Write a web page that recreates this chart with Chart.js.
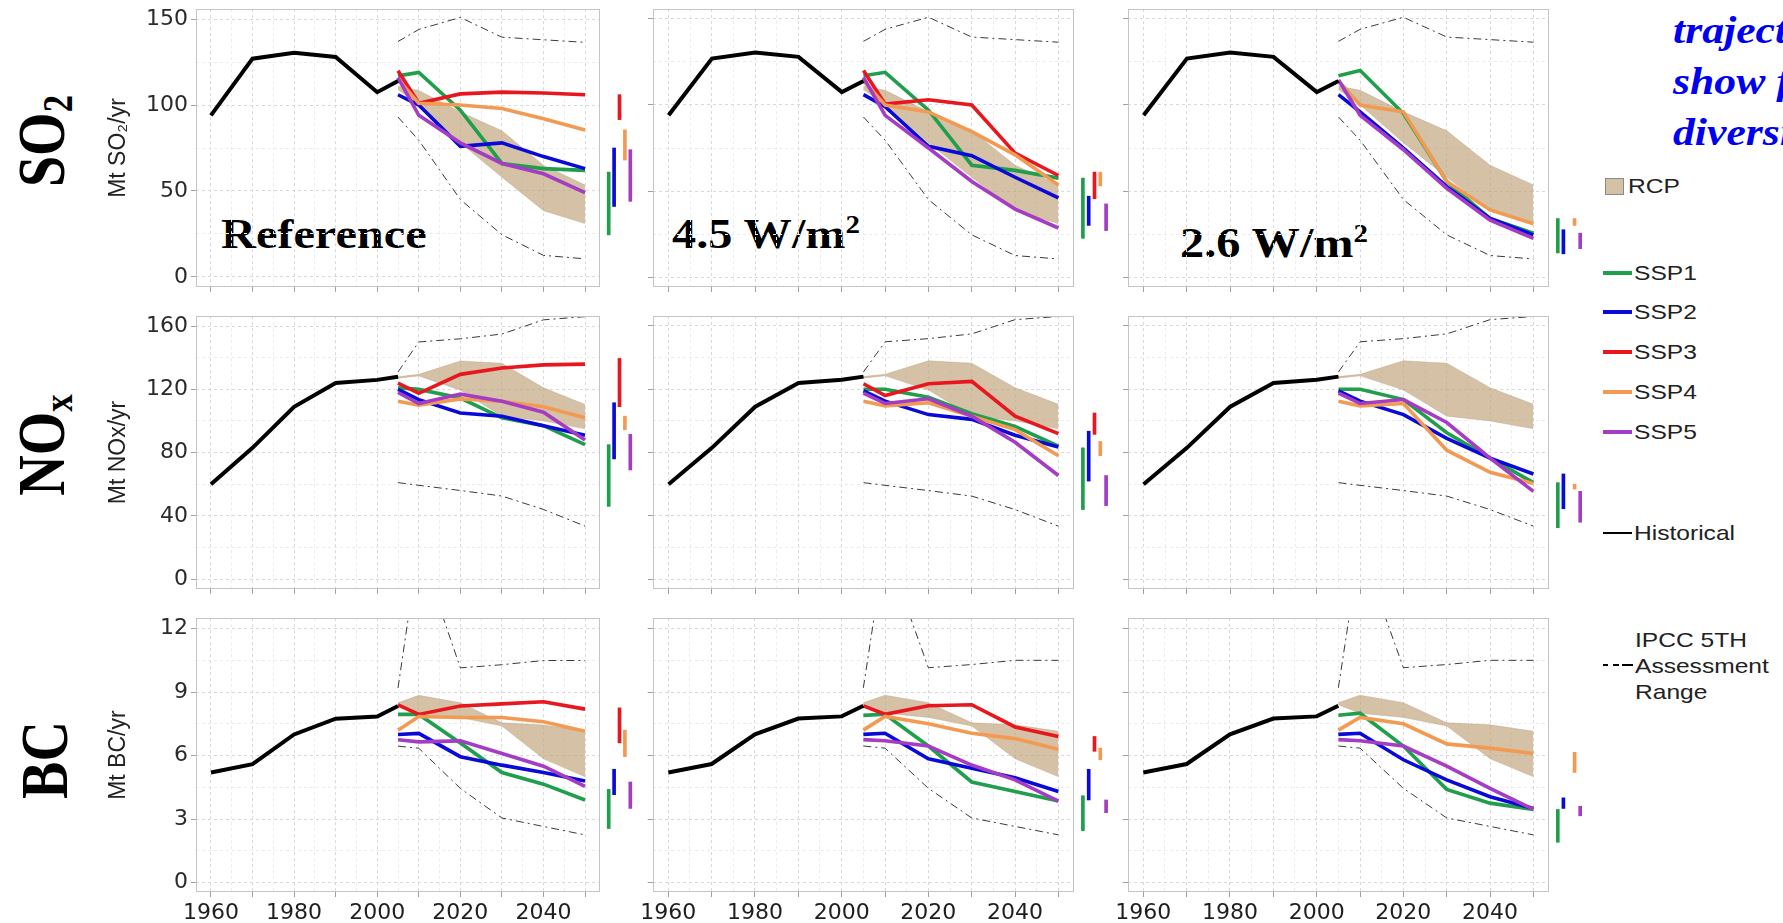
<!DOCTYPE html>
<html>
<head>
<meta charset="utf-8">
<title>Emission trajectories</title>
<script src="https://cdn.jsdelivr.net/npm/chart.js@4.4.0/dist/chart.umd.min.js"></script>
<style>
  body { margin: 0; width: 1783px; height: 923px; overflow: hidden; background: #fff; position: relative;
         font-family: "Liberation Sans", Arial, sans-serif; }
  .box { position: absolute; }
  .rowlab { position: absolute; font: bold 56px "Liberation Serif", serif; line-height: 1; white-space: nowrap;
            transform: translate(-50%, -50%) rotate(-90deg) scale(1, 1.2); color: #000; }
  .rowlab sub { font-size: 0.62em; vertical-align: -0.18em; }
  .case { position: absolute; font: bold 42px "Liberation Serif", serif; line-height: 1; white-space: nowrap;
          transform: scaleX(1.15); transform-origin: left top; color: #000; }
  .case sup { font-size: 0.6em; vertical-align: 0.6em; line-height: 0; }
  .note { position: absolute; font: italic bold 38px "Liberation Serif", serif; color: #0000f0; line-height: 51px;
          white-space: nowrap; transform: scaleX(1.15); transform-origin: left top; }
  .lt { position: absolute; font-size: 21px; line-height: 24px; color: #222; white-space: nowrap;
        transform: scaleX(1.17); transform-origin: left top; }
  .sw { position: absolute; }
</style>
</head>
<body>

<div class="rowlab" style="left:44px;top:141px">SO<sub>2</sub></div>
<div class="rowlab" style="left:44px;top:445px">NO<sub>x</sub></div>
<div class="rowlab" style="left:44px;top:760px">BC</div>

<div class="case" style="left:221px;top:213px">Reference</div>
<div class="case" style="left:672px;top:213px">4.5 W/m<sup>2</sup></div>
<div class="case" style="left:1180px;top:222px">2.6 W/m<sup>2</sup></div>

<div class="note" style="left:1673px;top:5px">traject<br>show f<br>diversi</div>

<!-- legend -->
<div class="sw" style="left:1605px;top:178px;width:17px;height:15px;background:rgb(213,193,166);border:1px solid #8a8a8a"></div>
<div class="lt" style="left:1628px;top:174px">RCP</div>
<div id="sspLegend"></div>
<div class="sw" style="left:1603px;top:532px;width:29px;height:2px;background:#000"></div>
<div class="lt" style="left:1634px;top:521px">Historical</div>
<div class="sw" style="left:1603px;top:664px;width:5px;height:2px;background:#000"></div>
<div class="sw" style="left:1613px;top:664px;width:6px;height:2px;background:#000"></div>
<div class="sw" style="left:1622px;top:664px;width:11px;height:2px;background:#000"></div>
<div class="lt" style="left:1635px;top:627px;line-height:26px">IPCC 5TH<br>Assessment<br>Range</div>

<script>
// ---------------- data ----------------
const histYears = [1960, 1970, 1980, 1990, 2000, 2005];
const projYears = [2005, 2010, 2020, 2030, 2040, 2050];
const sspNames = ['SSP1', 'SSP2', 'SSP3', 'SSP4', 'SSP5'];
const sspColors = ['#1f9e4c', '#0a0ad8', '#e8161e', '#f39a52', '#a43cc4'];

const yearTicks = [1960, 1980, 2000, 2020, 2040];
const so2Ticks = [0, 50, 100, 150];
const noxTicks = [0, 40, 80, 120, 160];
const bcTicks = [0, 3, 6, 9, 12];

// SO2 (Mt SO2/yr)
const so2Hist = [94, 127, 130.5, 128, 107.5, 114];
const so2RcpHi = [111, 108.5, 96, 85, 65, 53.5];
const so2RcpLo = [109, 100, 78, 58, 38.5, 31];
const so2IpccHi = [137, 144, 151, 139.5, 138, 136.5];
const so2IpccLo = [93, 79.5, 45, 24.5, 12.5, 10.5];
const so2Ref = [
  [117, 119, 97, 66, 63, 62],
  [106, 100, 76, 78, 70, 63],
  [120, 101, 106.5, 107.5, 107, 106],
  [115, 101, 100, 98, 92, 85.5],
  [116, 94, 78, 66, 60, 49]
];
const so2Rf45 = [
  [117, 119, 97, 65, 62, 57.5],
  [106, 99, 76, 70.5, 58, 46],
  [120, 100.5, 103, 100, 72, 59],
  [114, 100, 96, 84.5, 71, 53.5],
  [116, 94, 75, 55.5, 39.5, 28.5]
];
const so2Rf26 = [
  [117, 120, 95, 55.5, 34, 25.5],
  [106, 96, 75, 52.5, 34, 24.5],
  null,
  [114, 100, 96, 55.5, 39, 31],
  [114.5, 94, 74, 51.5, 33, 22.5]
];
const so2RefRange = [[24.5, 61], [41, 75], [91.5, 106], [68, 85.5], [44, 74]];
const so2Rf45Range = [[22.5, 57.5], [30, 47], [45.5, 61], [53, 61], [27, 42.5]];
const so2Rf26Range = [[14, 34], [13.5, 27.5], null, [30, 34], [16.5, 25.5]];

// NOx (Mt NOx/yr)
const noxHist = [60, 83, 109, 124, 126, 128];
const noxRcpHi = [128, 129.5, 138, 136.5, 121, 110.5];
const noxRcpLo = [127, 128.5, 119.5, 103, 100, 95];
const noxIpccHi = [131, 150, 152, 155, 164, 166];
const noxIpccLo = [61, 59.3, 56, 52.5, 44, 33.5];
const noxRef = [
  [121, 120, 114.5, 102, 97, 85],
  [120, 113.5, 105, 103, 97, 91],
  [124, 117.5, 129.5, 133.5, 135.5, 136],
  [112.5, 110, 114, 112.5, 109, 102],
  [118, 111, 117, 112.5, 105.5, 88]
];
const noxRf45 = [
  [120, 120, 115, 104.5, 96.5, 84],
  [119, 112.5, 104, 101, 91, 83.5],
  [123.5, 116, 123.5, 125, 103, 92],
  [112.5, 109.5, 111.5, 103, 94.5, 78],
  [117.5, 111, 114, 103, 86.5, 65.5]
];
const noxRf26 = [
  [120, 120, 113.5, 92.5, 76.5, 61],
  [119, 112.5, 104, 89, 76.5, 66.5],
  null,
  [112.5, 109.5, 111, 81.5, 67.5, 60.5],
  [117.5, 111, 113.5, 99, 76.5, 55.5]
];
const noxRefRange = [[46, 85], [76, 111.5], [109, 139.5], [94.5, 103], [69, 91.5]];
const noxRf45Range = [[44, 83], [62, 93.5], [91.5, 105], [78, 87], [46.5, 65.5]];
const noxRf26Range = [[32.5, 61], [44.5, 66.5], null, [57, 60], [36, 55.5]];

// BC (Mt BC/yr)
const bcHist = [5.2, 5.6, 7.0, 7.75, 7.85, 8.35];
const bcRcpHi = [8.5, 8.85, 8.5, 7.55, 7.45, 7.15];
const bcRcpLo = [8.4, 8.0, 7.8, 7.4, 5.85, 5.0];
const bcIpccHi = [9.2, 15.9, 10.15, 10.3, 10.5, 10.5];
const bcIpccLo = [6.45, 6.35, 4.45, 3.05, 2.65, 2.25];
const bcRef = [
  [7.95, 7.95, 6.6, 5.2, 4.65, 3.9],
  [7.0, 7.05, 5.95, 5.55, 5.2, 4.8],
  [8.4, 7.95, 8.35, 8.45, 8.55, 8.2],
  [7.2, 7.85, 7.8, 7.8, 7.6, 7.15],
  [6.75, 6.65, 6.7, 6.1, 5.5, 4.55]
];
const bcRf45 = [
  [7.9, 7.95, 6.45, 4.75, 4.3, 3.85],
  [7.0, 7.05, 5.85, 5.4, 4.95, 4.3],
  [8.35, 7.95, 8.35, 8.4, 7.35, 6.9],
  [7.2, 7.85, 7.5, 7.05, 6.8, 6.3],
  [6.75, 6.7, 6.45, 5.55, 4.85, 3.85]
];
const bcRf26 = [
  [7.9, 8.0, 6.45, 4.4, 3.75, 3.45],
  [7.0, 7.05, 5.8, 4.85, 4.05, 3.5],
  null,
  [7.2, 7.8, 7.5, 6.55, 6.35, 6.1],
  [6.75, 6.7, 6.45, 5.5, 4.45, 3.45]
];
const bcRefRange = [[2.55, 4.4], [4.15, 5.35], [6.6, 8.25], [5.95, 7.2], [3.5, 4.75]];
const bcRf45Range = [[2.45, 4.1], [3.9, 5.35], [6.2, 6.9], [5.8, 6.35], [3.3, 3.9]];
const bcRf26Range = [[1.9, 3.45], [3.5, 4.0], null, [5.2, 6.15], [3.15, 3.6]];

// ---------------- layout ----------------
const rows = [
  { title: 'Mt SO₂/yr', ticks: so2Ticks, min: -5.8, max: 155.8, top: 9, height: 278,
    hist: so2Hist, rcpHi: so2RcpHi, rcpLo: so2RcpLo, ipccHi: so2IpccHi, ipccLo: so2IpccLo,
    cases: [so2Ref, so2Rf45, so2Rf26], ranges: [so2RefRange, so2Rf45Range, so2Rf26Range] },
  { title: 'Mt NOx/yr', ticks: noxTicks, min: -6.2, max: 166.3, top: 316, height: 273,
    hist: noxHist, rcpHi: noxRcpHi, rcpLo: noxRcpLo, ipccHi: noxIpccHi, ipccLo: noxIpccLo,
    cases: [noxRef, noxRf45, noxRf26], ranges: [noxRefRange, noxRf45Range, noxRf26Range] },
  { title: 'Mt BC/yr', ticks: bcTicks, min: -0.45, max: 12.5, top: 618, height: 274,
    hist: bcHist, rcpHi: bcRcpHi, rcpLo: bcRcpLo, ipccHi: bcIpccHi, ipccLo: bcIpccLo,
    cases: [bcRef, bcRf45, bcRf26], ranges: [bcRefRange, bcRf45Range, bcRf26Range] }
];
const cols = [
  { left: 196, width: 404, barLeft: 606, barWidth: 27 },
  { left: 653, width: 421, barLeft: 1080, barWidth: 29 },
  { left: 1128, width: 421, barLeft: 1555, barWidth: 28 }
];

const xGrid = [];
for (let yr = 1960; yr <= 2050; yr += 5) xGrid.push(yr);

Chart.defaults.font.family = '"DejaVu Sans", sans-serif';
Chart.defaults.animation = false;

// ggplot-like border round the plot area
const panelBorder = {
  id: 'panelBorder',
  afterDraw(chart) {
    const a = chart.chartArea, ctx = chart.ctx;
    ctx.save();
    ctx.strokeStyle = '#c4c4c4';
    ctx.lineWidth = 1;
    ctx.strokeRect(Math.round(a.left) + 0.5, Math.round(a.top) + 0.5,
                   Math.round(a.right - a.left) - 1, Math.round(a.bottom - a.top) - 1);
    ctx.restore();
  }
};

function pts(xs, ys) {
  return xs.map((x, i) => ({ x: x, y: ys[i] }));
}

function withMinors(t) {
  const out = [];
  for (let i = 0; i < t.length; i++) {
    out.push(t[i]);
    if (i < t.length - 1) out.push((t[i] + t[i + 1]) / 2);
  }
  return out;
}

// move / resize the canvas so that its chart area lands on the target box
function place(chart, wrap, box) {
  for (let k = 0; k < 2; k++) {
    const a = chart.chartArea;
    const insL = a.left, insT = a.top;
    const insR = chart.width - a.right, insB = chart.height - a.bottom;
    wrap.style.left = (box.left - insL) + 'px';
    wrap.style.top = (box.top - insT) + 'px';
    chart.resize(Math.round(box.width + insL + insR), Math.round(box.height + insT + insB));
  }
}

function makePanel(r, c) {
  const row = rows[r], col = cols[c];
  const firstCol = c === 0, lastRow = r === 2;
  const yGrid = withMinors(row.ticks);

  const wrap = document.createElement('div');
  wrap.className = 'box';
  const cv = document.createElement('canvas');
  cv.width = col.width + 120;
  cv.height = row.height + 60;
  wrap.appendChild(cv);
  document.body.appendChild(wrap);

  const datasets = [
    { data: pts(projYears, row.rcpHi), fill: '+1', backgroundColor: 'rgba(190,160,118,0.65)',
      borderColor: 'rgba(160,130,95,0.35)', borderWidth: 0.8, pointRadius: 0, order: 20 },
    { data: pts(projYears, row.rcpLo), fill: false, backgroundColor: 'rgba(0,0,0,0)',
      borderColor: 'rgba(160,130,95,0.35)', borderWidth: 0.8, pointRadius: 0, order: 21 },
    { data: pts(projYears, row.ipccHi), borderColor: '#3a3a3a', borderWidth: 1,
      borderDash: [8, 4, 2, 4], pointRadius: 0, fill: false, order: 15 },
    { data: pts(projYears, row.ipccLo), borderColor: '#3a3a3a', borderWidth: 1,
      borderDash: [8, 4, 2, 4], pointRadius: 0, fill: false, order: 15 },
    { data: pts(histYears, row.hist), borderColor: '#000', borderWidth: 4,
      pointRadius: 0, fill: false, order: 0 }
  ];
  row.cases[c].forEach((vals, k) => {
    if (!vals) return;
    datasets.push({ label: sspNames[k], data: pts(projYears, vals), borderColor: sspColors[k],
                    borderWidth: 3.6, pointRadius: 0, fill: false, order: 5 - k });
  });

  const chart = new Chart(cv, {
    type: 'line',
    data: { datasets: datasets },
    options: {
      responsive: false,
      maintainAspectRatio: false,
      devicePixelRatio: 1,
      events: [],
      layout: { padding: { top: 14, right: 4, left: 0, bottom: 0 } },
      plugins: { legend: { display: false }, tooltip: { enabled: false } },
      scales: {
        x: {
          type: 'linear', min: 1956.4, max: 2053.6,
          afterBuildTicks: s => { s.ticks = xGrid.map(v => ({ value: v })); },
          afterFit: s => { s.height = lastRow ? 34 : 6; },
          grid: {
            color: ctx => (ctx.tick && ctx.tick.value % 10 === 0) ? '#d9d9d9' : '#ececec',
            lineWidth: 1, drawTicks: true, tickLength: 5,
            tickColor: ctx => (ctx.tick && ctx.tick.value % 10 === 0) ? '#a0a0a0' : 'rgba(0,0,0,0)'
          },
          border: { display: false, dash: [3, 3] },
          ticks: {
            display: lastRow, autoSkip: false, maxRotation: 0, minRotation: 0, padding: 3,
            color: '#1e1e1e', font: { size: 22 },
            callback: v => yearTicks.includes(v) ? String(v) : ''
          }
        },
        y: {
          min: row.min, max: row.max,
          afterBuildTicks: s => { s.ticks = yGrid.map(v => ({ value: v })); },
          afterFit: s => { s.width = firstCol ? 95 : 8; },
          grid: {
            color: ctx => (ctx.tick && row.ticks.includes(ctx.tick.value)) ? '#d9d9d9' : '#ececec',
            lineWidth: 1, drawTicks: true, tickLength: 5,
            tickColor: ctx => (ctx.tick && row.ticks.includes(ctx.tick.value)) ? '#a0a0a0' : 'rgba(0,0,0,0)'
          },
          border: { display: false, dash: [3, 3] },
          ticks: {
            display: firstCol, autoSkip: false, padding: 3, color: '#2a2a2a', font: { size: 22 },
            callback: v => row.ticks.includes(v) ? String(v) : ''
          },
          title: {
            display: firstCol, text: row.title, color: '#222',
            font: { family: '"Liberation Sans", Arial, sans-serif', size: 23 },
            padding: { top: 4, bottom: 0 }
          }
        }
      }
    },
    plugins: [panelBorder]
  });
  place(chart, wrap, { left: col.left, top: row.top, width: col.width, height: row.height });

  // 2050 ranges as floating bars beside the panel
  const bw = document.createElement('div');
  bw.className = 'box';
  bw.style.left = col.barLeft + 'px';
  bw.style.top = row.top + 'px';
  const bc = document.createElement('canvas');
  bc.width = col.barWidth;
  bc.height = row.height;
  bw.appendChild(bc);
  document.body.appendChild(bw);
  new Chart(bc, {
    type: 'bar',
    data: {
      labels: sspNames,
      datasets: [{ data: row.ranges[c], backgroundColor: sspColors, barThickness: 3,
                   borderWidth: 0, borderSkipped: false }]
    },
    options: {
      responsive: false, maintainAspectRatio: false, devicePixelRatio: 1, events: [],
      layout: { padding: 0 },
      plugins: { legend: { display: false }, tooltip: { enabled: false } },
      scales: {
        x: { display: false },
        y: { display: false, min: row.min, max: row.max }
      }
    }
  });
}

for (let r = 0; r < rows.length; r++) {
  for (let c = 0; c < cols.length; c++) makePanel(r, c);
}

// legend entries for the SSP lines
const legY = [273, 312, 352, 392, 432];
const leg = document.getElementById('sspLegend');
sspNames.forEach((name, k) => {
  const sw = document.createElement('div');
  sw.className = 'sw';
  sw.style.cssText = 'left:1603px;top:' + (legY[k] - 2) + 'px;width:29px;height:4px;background:' + sspColors[k];
  leg.appendChild(sw);
  const t = document.createElement('div');
  t.className = 'lt';
  t.style.left = '1634px';
  t.style.top = (legY[k] - 12) + 'px';
  t.textContent = name;
  leg.appendChild(t);
});
</script>
</body>
</html>
